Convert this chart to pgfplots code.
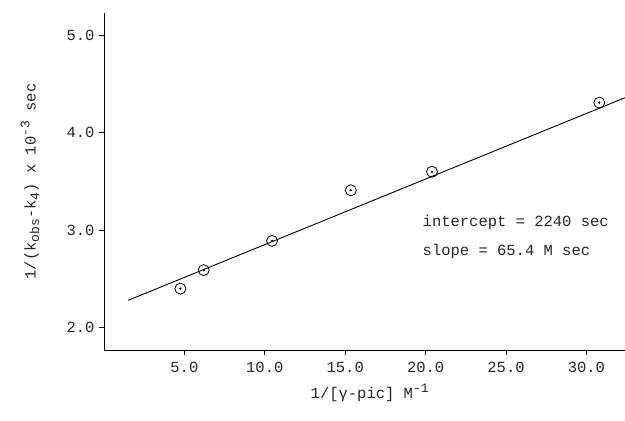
\documentclass[border=0pt]{standalone}
\usepackage{fontspec}
\setmainfont{Liberation Mono}
\setmonofont{Liberation Mono}
\usepackage{pgfplots}
\pgfplotsset{compat=1.18}
\newcommand{\mysub}[1]{\raisebox{-0.45ex}{\fontsize{13}{13}\selectfont #1}}
\newcommand{\mysup}[1]{\raisebox{0.75ex}{\fontsize{13}{13}\selectfont #1}}
\begin{document}
\begin{tikzpicture}
\path[use as bounding box] (-104pt,-71pt) rectangle (521pt,350pt);
\begin{axis}[
  at={(0pt,0pt)}, anchor=south west,
  scale only axis, width=521pt, height=337pt,
  xmin=0, xmax=32.4, ymin=1.77, ymax=5.23,
  axis lines*=left, axis line style={line width=0.9pt, -},
  tick align=outside, major tick length=5pt,
  tick style={line width=0.9pt, black},
  xtick={5,10,15,20,25,30}, ytick={2,3,4,5},
  /pgf/number format/assume math mode=true,
  /pgf/number format/.cd, fixed, fixed zerofill, precision=1, /pgfplots/.cd,
  tick label style={font=\fontsize{15.5}{17}\selectfont, text=black!85},
  xticklabel style={yshift=-4pt},
  yticklabel style={xshift=-1pt},
  xlabel={1/[γ-pic] M\mysup{-1}},
  ylabel={1/(k\mysub{obs}-k\mysub{4}) x 10\mysup{-3} sec},
  label style={font=\fontsize{15.5}{17}\selectfont, text=black!85},
  xlabel style={at={(axis description cs:0.51,-0.128)}, anchor=center},
  ylabel style={at={(axis description cs:-0.142,0.5)}, anchor=center},
  clip=false,
]
\addplot[black, line width=0.9pt] coordinates {(1.5,2.28) (32.4,4.36)};
\addplot[only marks, mark=o, mark size=5.5pt, mark options={line width=0.8pt, black}] coordinates {
(4.75,2.40) (6.2,2.59) (10.45,2.89) (15.35,3.41) (20.4,3.60) (30.8,4.31)};
\addplot[only marks, mark=*, mark size=0.9pt, black] coordinates {
(4.75,2.40) (6.2,2.59) (10.45,2.89) (15.35,3.41) (20.4,3.60) (30.8,4.31)};
\node[anchor=west, font=\fontsize{15.5}{17}\selectfont, text=black!85] at (axis cs:19.6,3.08) {intercept = 2240 sec};
\node[anchor=west, font=\fontsize{15.5}{17}\selectfont, text=black!85] at (axis cs:19.6,2.78) {slope = 65.4 M sec};
\end{axis}
\end{tikzpicture}
\end{document}
